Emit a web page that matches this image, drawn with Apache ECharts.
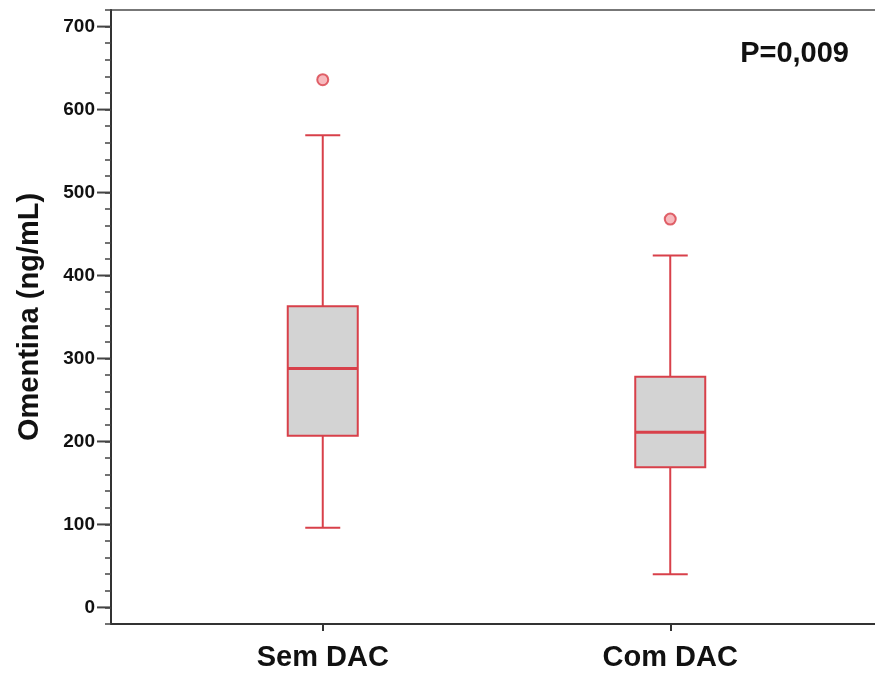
<!DOCTYPE html>
<html>
<head>
<meta charset="utf-8">
<script src="https://cdn.jsdelivr.net/npm/echarts@6/dist/echarts.min.js"></script>
<style>
  html, body { margin: 0; padding: 0; background: #fff; }
  #chart { width: 875px; height: 677px; }
</style>
</head>
<body>
<div id="chart"></div>
<script>
const categories = ['Sem DAC', 'Com DAC'];
// [min, Q1, median, Q3, max]
const boxValues = [
  [96, 207, 288, 363, 569],
  [40, 169, 211, 278, 424]
];
const outliers = [
  ['Sem DAC', 636],
  ['Com DAC', 468]
];
const pValueText = 'P=0,009';
const yTitle = 'Omentina (ng/mL)';

const FONT = '"Liberation Sans", Arial, sans-serif';
const RED = '#d8404a';
const BOX_W = 70;

const chart = echarts.init(document.getElementById('chart'), null, { renderer: 'canvas' });

// box drawn through the axis scales, caps half as wide as the box (SPSS style)
function renderBox(params, api) {
  const c = api.value(0);
  const x = api.coord([c, 0])[0];
  const y = i => api.coord([c, api.value(i)])[1];
  const yMin = y(1), yQ1 = y(2), yMed = y(3), yQ3 = y(4), yMax = y(5);
  const h = BOX_W / 2, cap = BOX_W / 4;
  const line = (x1, y1, x2, y2, w) => ({
    type: 'line', shape: { x1, y1, x2, y2 }, style: { stroke: RED, lineWidth: w || 2 }
  });
  return {
    type: 'group',
    children: [
      line(x, yMax, x, yQ3),
      line(x, yQ1, x, yMin),
      line(x - cap, yMax, x + cap, yMax),
      line(x - cap, yMin, x + cap, yMin),
      { type: 'rect', shape: { x: x - h, y: yQ3, width: BOX_W, height: yQ1 - yQ3 },
        style: { fill: '#d3d3d3', stroke: RED, lineWidth: 2 } },
      line(x - h, yMed, x + h, yMed, 3)
    ]
  };
}

const option = {
  backgroundColor: '#fff',
  animation: false,
  title: {
    text: pValueText,
    right: 21,
    top: 34,
    textStyle: { fontFamily: FONT, fontSize: 29, fontWeight: 'bold', color: '#111' }
  },
  grid: [
    // frame + y axis
    { left: 111, right: -20, top: 10, bottom: 53, show: true, borderColor: '#777', borderWidth: 2,
      backgroundColor: 'transparent', outerBoundsMode: 'none', containLabel: false },
    // boxes
    { left: 149, right: 31, top: 10, bottom: 53, outerBoundsMode: 'none', containLabel: false }
  ],
  xAxis: [
    {
      gridIndex: 0, type: 'value', min: 0, max: 1,
      axisLine: { show: true, onZero: false, lineStyle: { color: '#333', width: 2 } },
      axisTick: { show: false }, axisLabel: { show: false }, splitLine: { show: false }
    },
    {
      gridIndex: 1, type: 'category', data: categories,
      axisLine: { show: false, onZero: false },
      axisTick: { show: true, alignWithLabel: true, length: 7, lineStyle: { color: '#333', width: 2 } },
      axisLabel: { margin: 19, fontFamily: FONT, fontSize: 29, fontWeight: 'bold', color: '#111' },
      splitLine: { show: false }
    }
  ],
  yAxis: [
    {
      gridIndex: 0, type: 'value', min: -20, max: 720, interval: 20,
      name: yTitle, nameLocation: 'middle', nameGap: 67,
      nameTextStyle: { fontFamily: FONT, fontSize: 29, fontWeight: 'bold', color: '#111' },
      axisLine: { show: true, onZero: false, lineStyle: { color: '#333', width: 2 } },
      axisTick: { show: true, length: 6, lineStyle: { color: '#444', width: 1.5 } },
      axisLabel: {
        margin: 1,
        showMinLabel: true, showMaxLabel: true,
        formatter: function (v) { return v >= 0 && v % 100 === 0 ? '{n|' + v + '}{t| }' : ''; },
        rich: {
          n: { fontFamily: FONT, fontSize: 19, fontWeight: 'bold', color: '#111', padding: [0, 2, 0, 0] },
          t: { width: 13, height: 2, backgroundColor: '#444' }
        }
      },
      splitLine: { show: false }
    },
    {
      gridIndex: 1, type: 'value', min: -20, max: 720, interval: 20, show: false
    }
  ],
  series: [
    {
      type: 'custom',
      xAxisIndex: 1, yAxisIndex: 1,
      renderItem: renderBox,
      encode: { x: 0, y: [1, 2, 3, 4, 5] },
      data: boxValues.map((b, i) => [i].concat(b))
    },
    {
      type: 'scatter',
      xAxisIndex: 1, yAxisIndex: 1,
      data: outliers,
      symbol: 'circle', symbolSize: 11,
      itemStyle: { color: '#f5a9ae', borderColor: RED, borderWidth: 2 }
    }
  ]
};

chart.setOption(option);
</script>
</body>
</html>
